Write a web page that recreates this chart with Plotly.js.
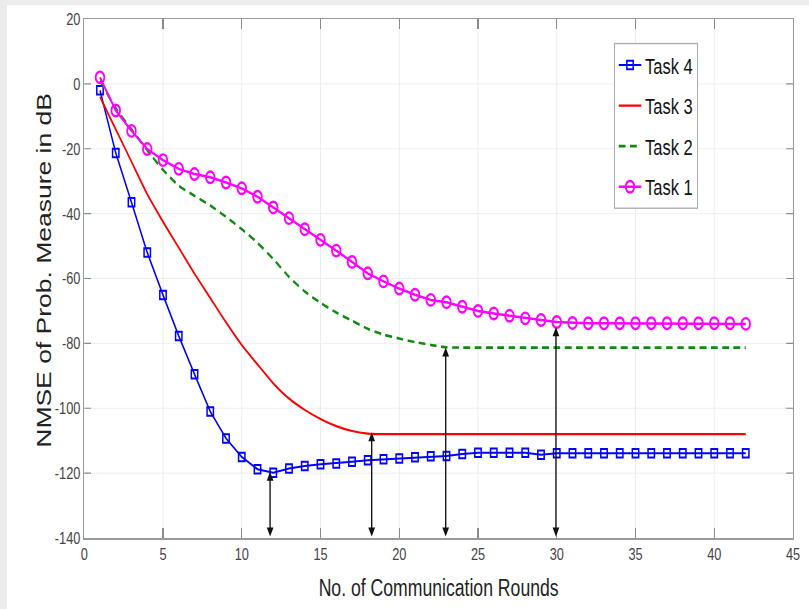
<!DOCTYPE html>
<html>
<head>
<meta charset="utf-8">
<script src="https://cdn.plot.ly/plotly-3.0.1.min.js"></script>
<style>
  html, body { margin: 0; padding: 0; background: #ebebeb; width: 809px; height: 609px; overflow: hidden; }
  #frame { position: absolute; left: 7px; top: 5px; width: 802px; height: 604px; background: #ffffff; overflow: hidden; }
  /* the reference figure is horizontally compressed; reproduce by squeezing the whole plot */
  #chart { position: absolute; left: 0; top: 0; width: 1069px; height: 604px; transform: scaleX(0.75); transform-origin: 0 0; }
</style>
</head>
<body>
<div id="frame"><div id="chart"></div></div>
<script>
const rounds = [1,2,3,4,5,6,7,8,9,10,11,12,13,14,15,16,17,18,19,20,21,22,23,24,25,26,27,28,29,30,31,32,33,34,35,36,37,38,39,40,41,42];

const task4 = [-2,-21.3,-36.5,-52,-65.1,-77.7,-89.5,-101,-109.3,-115,-118.8,-119.9,-118.6,-117.8,-117.3,-117,-116.5,-116,-115.7,-115.5,-115.1,-114.8,-114.7,-114.1,-113.7,-113.7,-113.7,-113.7,-114.3,-113.9,-113.9,-113.9,-113.9,-113.9,-113.9,-113.9,-113.9,-113.9,-113.9,-113.9,-113.9,-113.9];

const task3 = [-4,-14,-24,-34,-42.5,-50.5,-58.5,-66,-73.5,-80.5,-86.5,-92.3,-97,-100.5,-103.3,-105.5,-107,-107.8,-108,-108,-108,-108,-108,-108,-108,-108,-108,-108,-108,-108,-108,-108,-108,-108,-108,-108,-108,-108,-108,-108,-108,-108];

const task2 = [1,-7.5,-14,-20.5,-26.5,-31.4,-34.5,-37.5,-41,-44.8,-49,-54,-59.5,-64,-67.5,-70.5,-73,-75.5,-77.3,-78.5,-79.6,-80.5,-81.2,-81.3,-81.3,-81.3,-81.3,-81.3,-81.3,-81.3,-81.3,-81.3,-81.3,-81.3,-81.3,-81.3,-81.3,-81.3,-81.3,-81.3,-81.3,-81.3];

const task1 = [2,-8.2,-14.5,-20.1,-23.5,-26.2,-27.8,-28.8,-30.4,-32.2,-34.8,-38.1,-41.4,-44.8,-48.1,-51.4,-54.9,-58.4,-60.9,-63.1,-65,-66.6,-67.3,-68.7,-70,-70.8,-71.5,-72.3,-72.8,-73.4,-73.7,-73.8,-73.8,-73.8,-73.8,-73.8,-73.8,-73.8,-73.8,-73.8,-73.8,-74];

const seriesNames = ['Task 4','Task 3','Task 2','Task 1'];

// convergence markers (double-headed arrows)
const arrowX = [11.8, 18.25, 22.95, 29.95];
const arrowTop = [-119.6, -107.4, -81.3, -75.0];
const arrowBottom = -140;

const xTicks = [0,5,10,15,20,25,30,35,40,45];
const yTicks = [20,0,-20,-40,-60,-80,-100,-120,-140];

const xTitle = 'No. of Communication Rounds';
const yTitle = 'NMSE of Prob. Measure in dB';

const font = '"Liberation Sans", Arial, Helvetica, sans-serif';

const traces = [
  { x: rounds, y: task4, name: seriesNames[0], legendgroup: 'g4', mode: 'lines+markers',
    line: { color: '#0000ff', width: 2 },
    marker: { symbol: 'square-open', size: 8.5, color: '#0000ff', line: { width: 2 } } },
  { x: rounds, y: task3, name: seriesNames[1], legendgroup: 'g3', mode: 'lines',
    line: { color: '#ff0000', width: 2.2, shape: 'spline', smoothing: 0.6 } },
  { x: rounds, y: task2, name: seriesNames[2], legendgroup: 'g2', mode: 'lines',
    line: { color: '#0f8a0f', width: 2.6, dash: '9px,6px', shape: 'spline', smoothing: 0.6 } },
  { x: rounds, y: task1, name: seriesNames[3], legendgroup: 'g1', mode: 'lines+markers',
    line: { color: '#ff00ff', width: 2.5 },
    marker: { symbol: 'circle-open', size: 11.5, color: '#ff00ff', line: { width: 2.4 } } }
];

const annotations = arrowX.map((xv, i) => ({
  x: xv, y: arrowTop[i], xref: 'x', yref: 'y',
  ax: xv, ay: arrowBottom, axref: 'x', ayref: 'y',
  text: '', showarrow: true, arrowhead: 2, arrowside: 'end+start',
  arrowsize: 1, arrowwidth: 1.8, arrowcolor: '#111111', standoff: 0, startstandoff: 0
}));

// y-axis title drawn as rotated text
annotations.push({
  text: yTitle, xref: 'paper', yref: 'paper', x: -0.057, y: 0.515,
  xanchor: 'center', yanchor: 'middle', textangle: -90, showarrow: false,
  font: { family: font, size: 26.5, color: '#222222' }
});

const layout = {
  width: 1069, height: 604,
  margin: { l: 103, r: 21, t: 14, b: 71 },
  paper_bgcolor: '#ffffff', plot_bgcolor: '#ffffff',
  showlegend: true,
  legend: {
    x: 0.7475, y: 0.954, xanchor: 'left', yanchor: 'top',
    bgcolor: '#ffffff', bordercolor: '#a8a8a8', borderwidth: 1.3,
    font: { family: font, size: 22, color: '#111111' },
    traceorder: 'grouped', tracegroupgap: 9, itemwidth: 30
  },
  xaxis: {
    range: [0, 45], tickvals: xTicks, ticktext: xTicks.map(String),
    showgrid: true, gridcolor: '#ececec', gridwidth: 1.3, zeroline: false,
    showline: true, linecolor: '#9a9a9a', linewidth: 1.5, mirror: 'ticks',
    ticks: 'inside', ticklen: 10, tickwidth: 1.5, tickcolor: '#8a8a8a',
    tickfont: { family: font, size: 17, color: '#444444' },
    title: { text: xTitle, font: { family: font, size: 23.5, color: '#222222' }, standoff: 16 }
  },
  yaxis: {
    range: [-140, 20], tickvals: yTicks, ticktext: yTicks.map(String),
    showgrid: true, gridcolor: '#ececec', gridwidth: 1, zeroline: false,
    showline: true, linecolor: '#9a9a9a', linewidth: 1.8, mirror: 'ticks',
    ticks: 'inside', ticklen: 9, tickwidth: 1.2, tickcolor: '#8a8a8a',
    tickfont: { family: font, size: 17, color: '#444444' }
  },
  annotations: annotations
};

Plotly.newPlot('chart', traces, layout, { displayModeBar: false, staticPlot: true });
</script>
</body>
</html>
